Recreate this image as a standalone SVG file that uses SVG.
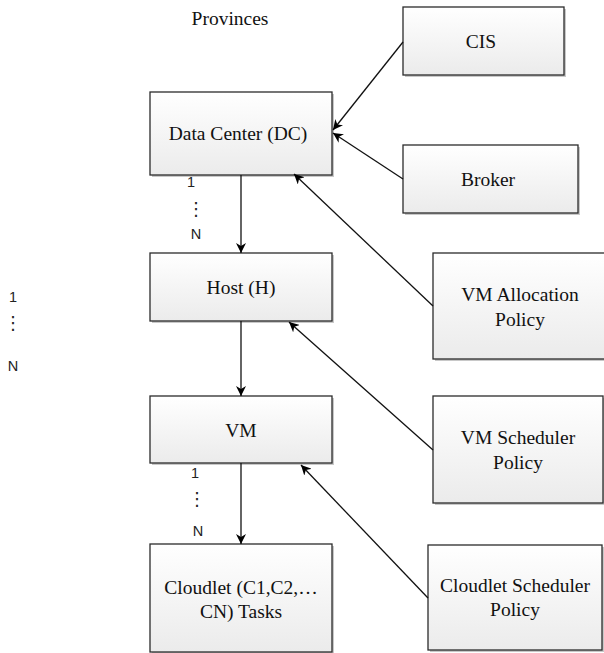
<svg xmlns="http://www.w3.org/2000/svg" width="604" height="653" viewBox="0 0 604 653">
<defs>
<linearGradient id="g" x1="0" y1="0" x2="0" y2="1">
<stop offset="0" stop-color="#ffffff"/>
<stop offset="1" stop-color="#ebebeb"/>
</linearGradient>
<marker id="ah" viewBox="0 0 10 10" refX="10" refY="5" markerWidth="10" markerHeight="10" markerUnits="userSpaceOnUse" orient="auto">
<path d="M0,0 L10,5 L0,10 L3,5 z" fill="#000"/>
</marker>
</defs>
<style>
.box{fill:url(#g);stroke:#2b2b2b;stroke-width:1.3}
.sh{fill:#c8c8c8}
.t{font-family:"Liberation Serif","Times New Roman",serif;font-size:19.5px;fill:#111;text-anchor:middle}
.s{font-family:"Liberation Sans",Arial,sans-serif;font-size:14.5px;fill:#222;text-anchor:middle}
.d{font-family:"DejaVu Sans",sans-serif;font-size:18px;fill:#222;text-anchor:middle}
.c{stroke:#111;stroke-width:1.3;fill:none;marker-end:url(#ah)}
</style>
<rect width="604" height="653" fill="#fff"/>
<text class="t" x="230" y="25">Provinces</text>
<g id="dc"><rect class="sh" x="152" y="94" width="182" height="83"/><rect class="box" x="150" y="92" width="182" height="83"/><text class="t" x="238" y="140">Data Center (DC)</text></g>
<g id="cis"><rect class="sh" x="405" y="9" width="161" height="68"/><rect class="box" x="403" y="7" width="161" height="68"/><text class="t" x="481" y="48">CIS</text></g>
<g id="broker"><rect class="sh" x="405" y="147" width="175" height="68"/><rect class="box" x="403" y="145" width="175" height="68"/><text class="t" x="488" y="186">Broker</text></g>
<g id="host"><rect class="sh" x="152" y="255" width="182" height="68"/><rect class="box" x="150" y="253" width="182" height="68"/><text class="t" x="241" y="294">Host (H)</text></g>
<g id="vm"><rect class="sh" x="152" y="398" width="182" height="67"/><rect class="box" x="150" y="396" width="182" height="67"/><text class="t" x="241" y="437">VM</text></g>
<g id="cloudlet"><rect class="sh" x="152" y="546" width="182" height="108"/><rect class="box" x="150" y="544" width="182" height="108"/><text class="t" x="241" y="594">Cloudlet (C1,C2,…</text><text class="t" x="241" y="618">CN)  Tasks</text></g>
<g id="vmalloc"><rect class="sh" x="435" y="255" width="172" height="106"/><rect class="box" x="433" y="253" width="172" height="106"/><text class="t" x="520" y="301">VM Allocation</text><text class="t" x="520" y="326">Policy</text></g>
<g id="vmsched"><rect class="sh" x="435" y="398" width="170" height="107"/><rect class="box" x="433" y="396" width="170" height="107"/><text class="t" x="518" y="444">VM Scheduler</text><text class="t" x="518" y="469">Policy</text></g>
<g id="clsched"><rect class="sh" x="430" y="547" width="174" height="105"/><rect class="box" x="428" y="545" width="174" height="105"/><text class="t" x="515" y="592">Cloudlet Scheduler</text><text class="t" x="515" y="616">Policy</text></g>
<g id="connectors">
<line class="c" x1="241" y1="175" x2="241" y2="253"/>
<line class="c" x1="241" y1="321" x2="241" y2="396"/>
<line class="c" x1="241" y1="463" x2="241" y2="544"/>
<line class="c" x1="403" y1="42" x2="333" y2="130"/>
<line class="c" x1="403" y1="179" x2="333" y2="133"/>
<line class="c" x1="433" y1="306" x2="294" y2="174"/>
<line class="c" x1="433" y1="450" x2="289" y2="322"/>
<line class="c" x1="428" y1="598" x2="301" y2="465"/>
</g>
<g id="labels">
<text class="s" x="13" y="302">1</text>
<text class="d" x="13" y="329">⋮</text>
<text class="s" x="13" y="371">N</text>
<text class="s" x="191" y="187">1</text>
<text class="d" x="196" y="215">⋮</text>
<text class="s" x="196" y="239">N</text>
<text class="s" x="195" y="478">1</text>
<text class="d" x="197" y="505">⋮</text>
<text class="s" x="198" y="536">N</text>
</g>
</svg>
